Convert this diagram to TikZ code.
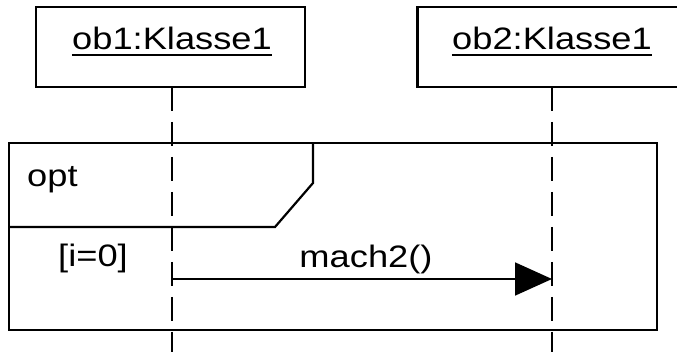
\documentclass[tikz,border=0pt]{standalone}
\usepackage{fontspec}
\setmainfont{Liberation Sans}
\usetikzlibrary{arrows.meta}
\newcommand{\wtext}[1]{\scalebox{1.17}[1]{#1}}
\begin{document}
\begin{tikzpicture}[x=1pt,y=-1pt,
  objbox/.style={draw, line width=2.2pt, minimum width=269pt, minimum height=80pt, inner sep=0pt},
  lbl/.style={font=\fontsize{31}{32}\selectfont, inner sep=0pt},
  lifeline/.style={line width=2.2pt, dash pattern=on 24pt off 11pt},
  framel/.style={line width=2.2pt},
  msg/.style={line width=1.8pt, -{Triangle[length=37pt,width=33pt]}}]
\useasboundingbox (0,0) rectangle (677,352);
% object boxes
\node[objbox] (b1) at (170.5,47) {};
\node[objbox] (b2) at (552,47) {};
\node[lbl, anchor=base] (t1) at (172,50) {\wtext{ob1:Klasse1}};
\node[lbl, anchor=base] (t2) at (552,50) {\wtext{ob2:Klasse1}};
\draw[line width=2pt] ([yshift=-5.5pt]t1.base west) -- ([yshift=-5.5pt]t1.base east);
\draw[line width=2pt] ([yshift=-5.5pt]t2.base west) -- ([yshift=-5.5pt]t2.base east);
% lifelines
\coordinate (e1) at (172,352);
\coordinate (e2) at (552,352);
\draw[lifeline] (172,87) -- (e1);
\draw[lifeline] (552,87) -- (e2);
% combined fragment
\draw[framel] (9,143) rectangle (657,330);
\draw[framel] (9,227) -- (275,227) -- (313,183) -- (313,143);
\node[lbl, anchor=base west] (opt) at (27,187) {\wtext{opt}};
\node[lbl, anchor=base] (guard) at (93,267) {\wtext{[i=0]}};
% message
\coordinate (m1) at (172,279);
\coordinate (m2) at (552,279);
\draw[msg] (m1) -- (m2);
\node[lbl, anchor=base] (ml) at (366,268) {\wtext{mach2()}};
\end{tikzpicture}
\end{document}
